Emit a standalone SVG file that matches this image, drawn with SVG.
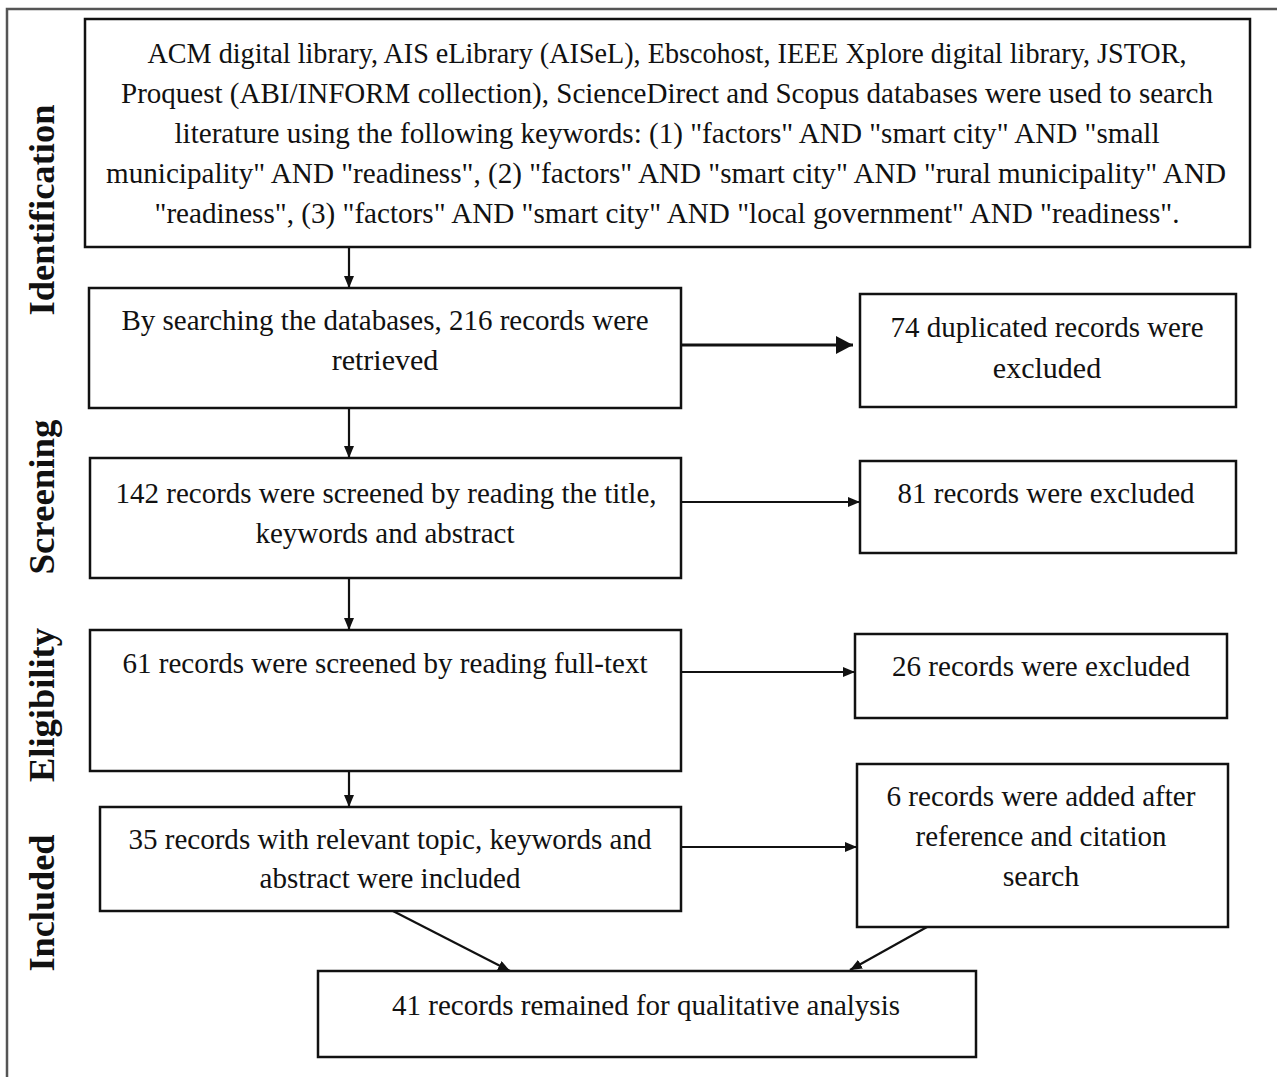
<svg xmlns="http://www.w3.org/2000/svg" width="1277" height="1077" viewBox="0 0 1277 1077">
<style>
.bx{fill:#fff;stroke:#111;stroke-width:2.5}
.t{font-family:"Liberation Serif","Times New Roman",serif;font-size:30px;fill:#111;text-anchor:middle}
.lab{font-family:"Liberation Serif","Times New Roman",serif;font-size:36px;font-weight:bold;fill:#111;text-anchor:middle}
.c{stroke:#111;stroke-width:2.2;fill:none}
.cb{stroke:#111;stroke-width:3.2;fill:none}
</style>
<defs>
<marker id="ah" markerUnits="userSpaceOnUse" markerWidth="12" markerHeight="10" refX="12" refY="5" orient="auto"><path d="M0,0 L12,5 L0,10 z" fill="#111"/></marker>
<marker id="ahb" markerUnits="userSpaceOnUse" markerWidth="17" markerHeight="18" refX="17" refY="9" orient="auto"><path d="M0,0 L17,9 L0,18 z" fill="#111"/></marker>
</defs>
<rect width="1277" height="1077" fill="#fff"/>
<path d="M1277,9 H7 V1077" fill="none" stroke="#555" stroke-width="2.5"/>

<g id="labels">
<text class="lab" transform="translate(54,210) rotate(-90)" textLength="211" lengthAdjust="spacingAndGlyphs">Identification</text>
<text class="lab" transform="translate(54,497) rotate(-90)" textLength="155" lengthAdjust="spacingAndGlyphs">Screening</text>
<text class="lab" transform="translate(54,705) rotate(-90)" textLength="154" lengthAdjust="spacingAndGlyphs">Eligibility</text>
<text class="lab" transform="translate(54,903) rotate(-90)" textLength="137" lengthAdjust="spacingAndGlyphs">Included</text>
</g>

<g id="connectors">
<line class="c" x1="349" y1="247" x2="349" y2="288" marker-end="url(#ah)"/>
<line class="c" x1="349" y1="408" x2="349" y2="458" marker-end="url(#ah)"/>
<line class="c" x1="349" y1="578" x2="349" y2="630" marker-end="url(#ah)"/>
<line class="c" x1="349" y1="771" x2="349" y2="807" marker-end="url(#ah)"/>
<line class="cb" x1="681" y1="345" x2="853" y2="345" marker-end="url(#ahb)"/>
<line class="c" x1="681" y1="502" x2="860" y2="502" marker-end="url(#ah)"/>
<line class="c" x1="681" y1="672" x2="855" y2="672" marker-end="url(#ah)"/>
<line class="c" x1="681" y1="847" x2="857" y2="847" marker-end="url(#ah)"/>
<line class="c" x1="393" y1="911" x2="510" y2="971" marker-end="url(#ah)"/>
<line class="c" x1="927" y1="927" x2="850" y2="970" marker-end="url(#ah)"/>
</g>

<g id="n-search">
<rect class="bx" x="85" y="19" width="1165" height="228"/>
<text class="t" x="667" y="63" textLength="1039" lengthAdjust="spacingAndGlyphs">ACM digital library, AIS eLibrary (AISeL), Ebscohost, IEEE Xplore digital library, JSTOR,</text>
<text class="t" x="667" y="103" textLength="1092" lengthAdjust="spacingAndGlyphs">Proquest (ABI/INFORM collection), ScienceDirect and Scopus databases were used to search</text>
<text class="t" x="667" y="143" textLength="985" lengthAdjust="spacingAndGlyphs">literature using the following keywords: (1) "factors" AND "smart city" AND "small</text>
<text class="t" x="666" y="183" textLength="1120" lengthAdjust="spacingAndGlyphs">municipality" AND "readiness", (2) "factors" AND "smart city" AND "rural municipality" AND</text>
<text class="t" x="667" y="223" textLength="1025" lengthAdjust="spacingAndGlyphs">"readiness", (3) "factors" AND "smart city" AND "local government" AND "readiness".</text>
</g>

<g id="n-retrieved">
<rect class="bx" x="89" y="288" width="592" height="120"/>
<text class="t" x="385" y="330" textLength="527" lengthAdjust="spacingAndGlyphs">By searching the databases, 216 records were</text>
<text class="t" x="385" y="370">retrieved</text>
</g>

<g id="n-duplicates">
<rect class="bx" x="860" y="294" width="376" height="113"/>
<text class="t" x="1047" y="337" textLength="313" lengthAdjust="spacingAndGlyphs">74 duplicated records were</text>
<text class="t" x="1047" y="378">excluded</text>
</g>

<g id="n-screened">
<rect class="bx" x="90" y="458" width="591" height="120"/>
<text class="t" x="386" y="503" textLength="541" lengthAdjust="spacingAndGlyphs">142 records were screened by reading the title,</text>
<text class="t" x="385" y="543" textLength="259" lengthAdjust="spacingAndGlyphs">keywords and abstract</text>
</g>

<g id="n-excluded81">
<rect class="bx" x="860" y="461" width="376" height="92"/>
<text class="t" x="1046" y="503" textLength="297" lengthAdjust="spacingAndGlyphs">81 records were excluded</text>
</g>

<g id="n-fulltext">
<rect class="bx" x="90" y="630" width="591" height="141"/>
<text class="t" x="385" y="673" textLength="525" lengthAdjust="spacingAndGlyphs">61 records were screened by reading full-text</text>
</g>

<g id="n-excluded26">
<rect class="bx" x="855" y="634" width="372" height="84"/>
<text class="t" x="1041" y="676" textLength="298" lengthAdjust="spacingAndGlyphs">26 records were excluded</text>
</g>

<g id="n-included">
<rect class="bx" x="100" y="807" width="581" height="104"/>
<text class="t" x="390" y="849" textLength="523" lengthAdjust="spacingAndGlyphs">35 records with relevant topic, keywords and</text>
<text class="t" x="390" y="888" textLength="261" lengthAdjust="spacingAndGlyphs">abstract were included</text>
</g>

<g id="n-added">
<rect class="bx" x="857" y="764" width="371" height="163"/>
<text class="t" x="1041" y="806" textLength="309" lengthAdjust="spacingAndGlyphs">6 records were added after</text>
<text class="t" x="1041" y="846" textLength="251" lengthAdjust="spacingAndGlyphs">reference and citation</text>
<text class="t" x="1041" y="886">search</text>
</g>

<g id="n-final">
<rect class="bx" x="318" y="971" width="658" height="86"/>
<text class="t" x="646" y="1015" textLength="508" lengthAdjust="spacingAndGlyphs">41 records remained for qualitative analysis</text>
</g>
</svg>
